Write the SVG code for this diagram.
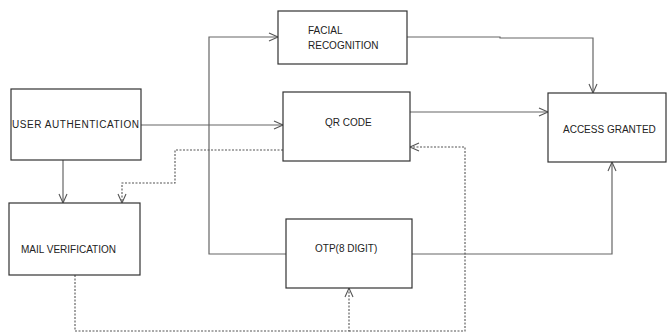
<svg xmlns="http://www.w3.org/2000/svg" width="668" height="333" viewBox="0 0 668 333">
<style>
.box{fill:#fff;stroke:#333;stroke-width:1.2}
.lbl{font-family:"Liberation Sans",Arial,sans-serif;font-size:10px;fill:#222}
.c{fill:none;stroke:#666;stroke-width:1.2}
.d{fill:none;stroke:#555;stroke-width:1.1;stroke-dasharray:2,1.5}
</style>
<defs>
<marker id="a" markerUnits="userSpaceOnUse" markerWidth="12" markerHeight="12" refX="10" refY="6" orient="auto">
<path d="M1,2 L10,6 L1,10" fill="none" stroke="#555" stroke-width="1.1"/>
</marker>
</defs>
<rect width="668" height="333" fill="#fff"/>
<g id="connectors">
<path class="c" d="M141,125 H283" marker-end="url(#a)"/>
<path class="c" d="M286,254 H209 V37 H278" marker-end="url(#a)"/>
<path class="c" d="M407,37 H500 V38 H593 V93" marker-end="url(#a)"/>
<path class="c" d="M410,112 H548" marker-end="url(#a)"/>
<path class="c" d="M412,254 H612 V162" marker-end="url(#a)"/>
<path class="c" d="M63,160 V203" marker-end="url(#a)"/>
<path class="d" d="M283,150 H175 V183 H122 V203" marker-end="url(#a)"/>
<path class="d" d="M75,275 V331 H349 V288" marker-end="url(#a)"/>
<path class="d" d="M349,331 H465 V147 H410" marker-end="url(#a)"/>
</g>
<g id="user-auth"><rect class="box" x="11" y="89" width="130" height="71"/><text class="lbl" x="12" y="128" textLength="127">USER AUTHENTICATION</text></g>
<g id="facial"><rect class="box" x="278" y="11" width="129" height="53"/><text class="lbl" x="308" y="34">FACIAL</text><text class="lbl" x="308" y="49">RECOGNITION</text></g>
<g id="qr"><rect class="box" x="283" y="92" width="127" height="69"/><text class="lbl" x="325" y="126">QR CODE</text></g>
<g id="access"><rect class="box" x="548" y="93" width="118" height="69"/><text class="lbl" x="563" y="133">ACCESS GRANTED</text></g>
<g id="mail"><rect class="box" x="9" y="203" width="131" height="72"/><text class="lbl" x="21" y="253">MAIL VERIFICATION</text></g>
<g id="otp"><rect class="box" x="286" y="219" width="126" height="69"/><text class="lbl" x="315" y="252">OTP(8 DIGIT)</text></g>
</svg>
